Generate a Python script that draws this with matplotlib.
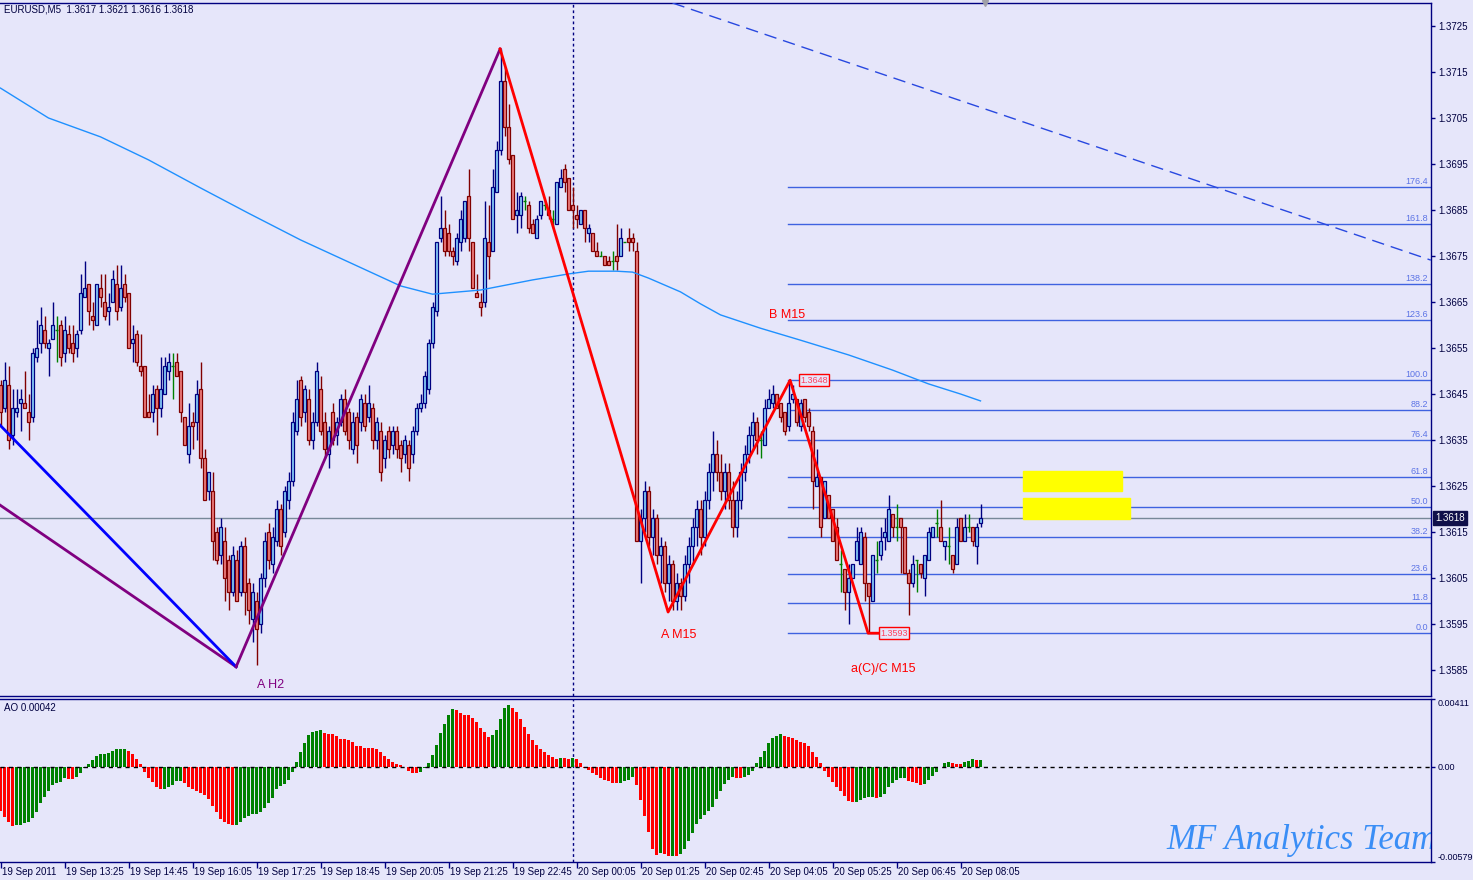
import numpy as np
import matplotlib.pyplot as plt
from matplotlib.patches import Rectangle

plt.rcParams['font.family'] = ['Liberation Sans', 'DejaVu Sans']

# EURUSD M5, one bar every 5 minutes from 19 Sep 2011 12:05 to 20 Sep 08:30
# prices are given in pips (1 pip = 0.0001)
open_pips = [
    13647, 13642, 13647, 13636, 13641, 13643, 13643, 13641, 13640, 13653,
    13656, 13659, 13655, 13657, 13659, 13660, 13654, 13658, 13656, 13655,
    13659, 13666, 13669, 13662, 13660, 13668, 13665, 13663, 13665, 13669,
    13664, 13669, 13667, 13656, 13658, 13651, 13651, 13641, 13641, 13646,
    13642, 13645, 13650, 13651, 13652, 13650, 13640, 13632, 13639, 13639,
    13646, 13631, 13624, 13624, 13615, 13610, 13613, 13609, 13602, 13609,
    13602, 13612, 13604, 13596, 13600, 13595, 13605, 13615, 13608, 13613,
    13620, 13615, 13622, 13626, 13637, 13648, 13641, 13644, 13635, 13639,
    13646, 13639, 13632, 13641, 13636, 13639, 13644, 13641, 13633, 13640,
    13639, 13643, 13640, 13642, 13635, 13637, 13631, 13637, 13634, 13637,
    13634, 13632, 13634, 13632, 13637, 13642, 13643, 13646, 13656, 13663,
    13679, 13681, 13680, 13676, 13674, 13678, 13679, 13688, 13678, 13667,
    13665, 13665, 13678, 13676, 13689, 13698, 13713, 13703, 13697, 13684,
    13684, 13687, 13686, 13682, 13679, 13684, 13686, 13685, 13683, 13682,
    13690, 13694, 13692, 13686, 13684, 13682, 13685, 13680, 13680, 13676,
    13675, 13675, 13674, 13674, 13675, 13675, 13678, 13679, 13679, 13676,
    13613, 13618, 13624, 13614, 13618, 13610, 13612, 13604, 13608, 13600,
    13604, 13601, 13608, 13612, 13616, 13620, 13614, 13622, 13628, 13632,
    13628, 13624, 13628, 13622, 13616, 13622, 13628, 13632, 13636, 13639,
    13635, 13634, 13642, 13643, 13645, 13643, 13641, 13638, 13644, 13644,
    13638, 13644, 13641, 13637, 13625, 13627, 13618, 13623, 13620, 13616,
    13608, 13607, 13602, 13605, 13609, 13608, 13614, 13604, 13600, 13609,
    13610, 13614, 13613, 13619, 13616, 13618, 13616, 13606, 13604, 13609,
    13608, 13605, 13609, 13614, 13617, 13616, 13612, 13612, 13610, 13608,
    13618, 13613, 13616, 13616, 13612, 13617,
]
high_pips = [
    13648, 13652, 13651, 13646, 13646, 13646, 13650, 13645, 13655, 13661,
    13664, 13662, 13657, 13665, 13662, 13661, 13662, 13660, 13660, 13659,
    13671, 13674, 13669, 13665, 13669, 13671, 13671, 13667, 13672, 13673,
    13673, 13671, 13667, 13660, 13659, 13658, 13651, 13645, 13647, 13647,
    13653, 13653, 13654, 13654, 13654, 13650, 13640, 13643, 13641, 13648,
    13652, 13633, 13628, 13628, 13616, 13618, 13616, 13610, 13612, 13611,
    13613, 13614, 13605, 13604, 13602, 13606, 13615, 13617, 13616, 13622,
    13621, 13625, 13628, 13641, 13648, 13649, 13647, 13646, 13641, 13652,
    13649, 13641, 13638, 13643, 13640, 13645, 13646, 13642, 13641, 13641,
    13645, 13645, 13647, 13643, 13640, 13639, 13636, 13638, 13638, 13638,
    13635, 13636, 13635, 13638, 13643, 13645, 13650, 13657, 13665, 13678,
    13688, 13685, 13682, 13677, 13680, 13685, 13687, 13694, 13678, 13671,
    13667, 13687, 13686, 13694, 13700, 13720, 13716, 13708, 13697, 13689,
    13689, 13688, 13687, 13683, 13684, 13687, 13687, 13688, 13685, 13691,
    13694, 13695, 13692, 13690, 13686, 13685, 13685, 13682, 13680, 13678,
    13676, 13675, 13675, 13676, 13682, 13681, 13678, 13681, 13680, 13678,
    13620, 13626, 13625, 13620, 13619, 13614, 13613, 13610, 13609, 13606,
    13605, 13610, 13614, 13618, 13622, 13622, 13624, 13630, 13637, 13635,
    13632, 13630, 13630, 13626, 13624, 13630, 13634, 13638, 13641, 13640,
    13637, 13644, 13646, 13647, 13645, 13643, 13641, 13648, 13647, 13644,
    13644, 13644, 13642, 13638, 13633, 13627, 13626, 13623, 13620, 13618,
    13611, 13607, 13608, 13608, 13616, 13616, 13615, 13604, 13610, 13613,
    13616, 13618, 13623, 13619, 13621, 13618, 13616, 13607, 13610, 13609,
    13608, 13610, 13616, 13616, 13620, 13622, 13613, 13616, 13610, 13618,
    13618, 13619, 13619, 13616, 13617, 13621,
]
low_pips = [
    13638, 13641, 13633, 13634, 13640, 13637, 13642, 13635, 13639, 13652,
    13654, 13655, 13649, 13657, 13652, 13651, 13652, 13654, 13652, 13653,
    13658, 13666, 13660, 13659, 13660, 13664, 13661, 13660, 13665, 13661,
    13663, 13665, 13655, 13652, 13651, 13649, 13640, 13640, 13639, 13636,
    13640, 13645, 13648, 13644, 13649, 13639, 13634, 13630, 13633, 13635,
    13629, 13622, 13622, 13609, 13608, 13608, 13600, 13598, 13601, 13600,
    13601, 13597, 13595, 13591, 13586, 13593, 13603, 13607, 13606, 13612,
    13610, 13614, 13620, 13625, 13636, 13638, 13639, 13634, 13633, 13638,
    13636, 13631, 13629, 13634, 13634, 13638, 13636, 13633, 13632, 13630,
    13637, 13637, 13639, 13633, 13633, 13626, 13629, 13631, 13632, 13631,
    13628, 13630, 13626, 13630, 13636, 13641, 13642, 13645, 13655, 13662,
    13678, 13675, 13675, 13673, 13673, 13676, 13678, 13676, 13668, 13666,
    13662, 13664, 13670, 13676, 13689, 13697, 13701, 13695, 13683, 13680,
    13681, 13685, 13680, 13680, 13679, 13683, 13685, 13683, 13681, 13682,
    13690, 13689, 13685, 13681, 13681, 13682, 13678, 13678, 13676, 13675,
    13675, 13673, 13673, 13672, 13672, 13675, 13678, 13676, 13676, 13613,
    13604, 13615, 13612, 13610, 13608, 13604, 13602, 13600, 13598, 13598,
    13598, 13600, 13604, 13608, 13612, 13610, 13612, 13620, 13624, 13626,
    13622, 13620, 13620, 13614, 13614, 13620, 13626, 13630, 13633, 13632,
    13631, 13634, 13642, 13642, 13642, 13639, 13636, 13637, 13643, 13638,
    13637, 13639, 13637, 13620, 13625, 13614, 13618, 13618, 13613, 13609,
    13602, 13598, 13595, 13605, 13609, 13608, 13600, 13593, 13600, 13606,
    13609, 13611, 13613, 13614, 13613, 13606, 13606, 13597, 13603, 13602,
    13605, 13601, 13609, 13614, 13614, 13613, 13609, 13608, 13606, 13608,
    13613, 13613, 13615, 13612, 13608, 13616,
]
close_pips = [
    13641, 13648, 13635, 13642, 13642, 13644, 13642, 13639, 13654, 13655,
    13660, 13656, 13656, 13660, 13659, 13653, 13659, 13655, 13654, 13658,
    13667, 13668, 13663, 13661, 13669, 13666, 13662, 13664, 13670, 13663,
    13668, 13666, 13655, 13657, 13652, 13650, 13640, 13640, 13645, 13642,
    13646, 13651, 13652, 13651, 13649, 13641, 13634, 13638, 13638, 13645,
    13631, 13622, 13628, 13613, 13609, 13616, 13605, 13602, 13610, 13600,
    13612, 13602, 13598, 13602, 13594, 13605, 13613, 13609, 13614, 13620,
    13612, 13624, 13626, 13639, 13644, 13640, 13646, 13635, 13639, 13650,
    13637, 13633, 13637, 13635, 13639, 13644, 13637, 13635, 13639, 13634,
    13644, 13638, 13643, 13635, 13639, 13628, 13635, 13633, 13637, 13633,
    13631, 13635, 13629, 13637, 13642, 13643, 13649, 13656, 13664, 13678,
    13681, 13676, 13676, 13675, 13679, 13683, 13687, 13679, 13668, 13666,
    13664, 13679, 13675, 13690, 13698, 13713, 13703, 13696, 13683, 13685,
    13688, 13687, 13681, 13680, 13683, 13687, 13686, 13684, 13683, 13691,
    13692, 13691, 13685, 13685, 13683, 13685, 13681, 13681, 13676, 13675,
    13675, 13673, 13673, 13674, 13674, 13679, 13678, 13678, 13678, 13613,
    13618, 13624, 13614, 13618, 13610, 13612, 13604, 13608, 13600, 13604,
    13601, 13608, 13612, 13616, 13620, 13614, 13622, 13628, 13632, 13628,
    13624, 13628, 13622, 13616, 13622, 13628, 13632, 13636, 13639, 13635,
    13635, 13642, 13644, 13645, 13642, 13640, 13637, 13643, 13645, 13639,
    13643, 13640, 13638, 13626, 13627, 13616, 13626, 13618, 13613, 13609,
    13608, 13602, 13605, 13608, 13613, 13615, 13604, 13601, 13610, 13609,
    13613, 13615, 13620, 13616, 13616, 13616, 13606, 13604, 13608, 13609,
    13606, 13610, 13615, 13616, 13617, 13613, 13613, 13612, 13607, 13616,
    13613, 13616, 13616, 13613, 13616, 13618,
]

# Awesome Oscillator, in units of 0.00001
ao_1e5 = [
    -267, -303, -334, -359, -357, -353, -344, -334, -310, -273,
    -223, -187, -150, -113, -100, -92, -70, -74, -76, -62,
    -39, -10, 14, 39, 64, 76, 78, 86, 98, 105,
    107, 108, 98, 76, 45, 14, -33, -68, -96, -125,
    -137, -135, -125, -109, -88, -86, -100, -121, -137, -150,
    -158, -174, -199, -236, -277, -316, -334, -350, -355, -353,
    -334, -310, -297, -287, -285, -273, -254, -223, -193, -137,
    -117, -105, -80, -33, 27, 88, 146, 193, 209, 215,
    223, 207, 201, 197, 187, 168, 166, 162, 150, 125,
    123, 113, 112, 111, 110, 90, 64, 45, 27, 14,
    12, 1, -27, -39, -41, -33, -8, 21, 70, 131,
    205, 262, 316, 353, 346, 328, 316, 312, 297, 273,
    236, 209, 178, 193, 223, 291, 355, 377, 359, 334,
    291, 242, 199, 162, 131, 106, 88, 69, 57, 45,
    51, 50, 45, 51, 45, 21, -6, -21, -39, -53,
    -70, -78, -88, -100, -101, -100, -88, -82, -64, -113,
    -205, -297, -396, -500, -537, -525, -531, -543, -541, -544,
    -531, -500, -451, -402, -346, -316, -291, -267, -242, -199,
    -150, -107, -82, -64, -66, -70, -64, -51, -27, 21,
    57, 94, 144, 174, 187, 199, 187, 180, 174, 162,
    150, 144, 125, 88, 57, 21, -27, -64, -94, -125,
    -150, -180, -211, -217, -215, -205, -193, -187, -186, -193,
    -187, -168, -125, -100, -82, -70, -69, -88, -94, -100,
    -113, -107, -82, -57, -33, -2, 21, 27, 21, 16,
    14, 27, 33, 45, 39, 42,
]

# slow moving average (light blue), sampled along the chart
ma_bar = [0, 12, 25, 37, 50, 62, 75, 87, 100, 108, 120, 133, 142, 147, 154,
          158, 162, 170, 175, 180, 190, 200, 212, 223, 232, 240, 245]
ma_price = [1.37115, 1.37050, 1.37009, 1.36959, 1.36898, 1.36843, 1.36785,
            1.36737, 1.36685, 1.36667, 1.36676, 1.36698, 1.36711, 1.36717,
            1.36717, 1.36715, 1.36702, 1.36672, 1.36646, 1.36622, 1.36593,
            1.36567, 1.36535, 1.36502, 1.36472, 1.36450, 1.36435]

# zigzag waves (bar, price)
h2_lower_x = [-0.2, 58.9]
h2_lower_y = [1.36209, 1.35857]
h2_blue_x = [-0.2, 58.9]
h2_blue_y = [1.36383, 1.35857]
h2_up_x = [58.9, 124.9]
h2_up_y = [1.35857, 1.37200]
m15_x = [124.9, 166.9, 197.4, 216.9, 219.9]
m15_y = [1.37200, 1.35976, 1.36480, 1.35930, 1.35930]
trend_x = [168.0, 357.6]
trend_y = [1.37300, 1.36741]

# fibonacci grid drawn on the last swing
fib_low = 1.3593
fib_high = 1.3648
fib_start = 196.9
fib_ratios = [0.0, 11.8, 23.6, 38.2, 50.0, 61.8, 76.4, 88.2, 100.0,
              123.6, 138.2, 161.8, 176.4]

# yellow target zones: (bar_from, bar_to, price_low, price_high)
zones = [(255.6, 280.4, 1.36239, 1.36283), (255.6, 282.4, 1.36178, 1.36224)]

last_price = 1.3618
day_break = 143
time_ticks = list(range(0, 241, 16))
time_labels = ['19 Sep 2011', '19 Sep 13:25', '19 Sep 14:45', '19 Sep 16:05',
               '19 Sep 17:25', '19 Sep 18:45', '19 Sep 20:05', '19 Sep 21:25',
               '19 Sep 22:45', '20 Sep 00:05', '20 Sep 01:25', '20 Sep 02:45',
               '20 Sep 04:05', '20 Sep 05:25', '20 Sep 06:45', '20 Sep 08:05']
price_ticks = [1.3585 + 0.001 * i for i in range(15)]
ao_ticks = [-0.00579, 0.0, 0.00411]

BG = '#E6E6FA'
NAVY = '#000080'
TXT = '#000040'

W, H = 1473, 880
def box(x0, y0, x1, y1):
    return [x0 / W, 1 - y1 / H, (x1 - x0) / W, (y1 - y0) / H]

fig = plt.figure(figsize=(W / 100, H / 100), dpi=100, facecolor=BG)
ax = fig.add_axes(box(0, 3, 1431, 696), facecolor=BG)
ax2 = fig.add_axes(box(0, 699, 1431, 862), facecolor=BG, sharex=ax)

o = np.array(open_pips) / 1e4
hi = np.array(high_pips) / 1e4
lo = np.array(low_pips) / 1e4
c = np.array(close_pips) / 1e4
bars = np.arange(len(o))
up = c > o
dn = c < o
dj = c == o

# grid-like objects behind the candles
ax.axhline(last_price, color='#778899', lw=1, zorder=1)
for r in fib_ratios:
    lvl = fib_low + (fib_high - fib_low) * r / 100
    ax.plot([fib_start, 400], [lvl, lvl], color='#3F62E0', lw=1, zorder=1)
    ax.annotate(f'{r:.1f}', xy=(1, lvl), xycoords=('axes fraction', 'data'),
                xytext=(-3, 1), textcoords='offset pixels', ha='right', va='bottom',
                fontsize=6.5, color='#5C74E6')
for b0, b1, p0, p1 in zones:
    ax.add_patch(Rectangle((b0, p0), b1 - b0, p1 - p0, color='#FFFF00', zorder=2))

# candles
ax.vlines(bars[up], lo[up], hi[up], colors=NAVY, lw=1, zorder=3)
ax.bar(bars[up], (c - o)[up], bottom=o[up], width=0.55, color='#87CEFA',
       edgecolor=NAVY, lw=0.9, zorder=4)
ax.vlines(bars[dn], lo[dn], hi[dn], colors='#800000', lw=1, zorder=3)
ax.bar(bars[dn], (c - o)[dn], bottom=o[dn], width=0.55, color='#F08080',
       edgecolor='#800000', lw=0.9, zorder=4)
ax.vlines(bars[dj], lo[dj], hi[dj], colors='#008000', lw=1, zorder=3)
ax.hlines(c[dj], bars[dj] - 0.4, bars[dj] + 0.4, colors='#008000', lw=1, zorder=3)

# moving average and wave lines
ax.plot(ma_bar, ma_price, color='#1E90FF', lw=1, zorder=5)
ax.plot(h2_lower_x, h2_lower_y, color='#800080', lw=2, zorder=5)
ax.plot(h2_blue_x, h2_blue_y, color='#0000FF', lw=2, zorder=5)
ax.plot(h2_up_x, h2_up_y, color='#800080', lw=2, zorder=5)
ax.plot(m15_x, m15_y, color='#FF0000', lw=2, zorder=6)
ax.plot(trend_x, trend_y, color='#2848E0', lw=1, ls=(0, (9, 5)), zorder=5)

# wave labels
ax.text(192.1, 1.36622, 'B M15', color='#FF0000', fontsize=9, va='center')
ax.text(165.1, 1.35926, 'A M15', color='#FF0000', fontsize=9, va='center')
ax.text(212.6, 1.35852, 'a(C)/C M15', color='#FF0000', fontsize=9, va='center')
ax.text(64.1, 1.35817, 'A H2', color='#800080', fontsize=9, va='center')
for bx, p in [(199.9, fib_high), (219.9, fib_low)]:
    ax.text(bx, p, f'{p:.4f}', color='#FF4060', fontsize=6.5, va='center', zorder=7,
            bbox=dict(boxstyle='square,pad=0.15', fc=BG, ec='#FF0000', lw=1))

# day separator
for a in (ax, ax2):
    a.axvline(day_break, color=NAVY, lw=1, ls=(0, (2, 2)), zorder=2)

ax.annotate('EURUSD,M5  1.3617 1.3621 1.3616 1.3618', xy=(0, 1),
            xycoords='axes fraction', xytext=(4, -7), textcoords='offset pixels',
            va='center', fontsize=7, color=TXT)
ax.plot([246], [1.3730], marker='v', ms=5, color='#A0A0A8', clip_on=False, zorder=8)

# price axis
ax.set_xlim(-0.125, 357.625)
ax.set_ylim(1.357935, 1.37300)
ax.yaxis.tick_right()
ax.set_yticks(price_ticks)
ax.set_yticklabels([f'{p:.4f}' for p in price_ticks])
ax.tick_params(axis='y', direction='out', length=3, width=1, colors=NAVY,
               labelcolor=TXT, labelsize=7, pad=2)
ax.tick_params(axis='x', bottom=False, labelbottom=False)
ax.annotate(f'{last_price:.4f}', xy=(1, last_price), xycoords=('axes fraction', 'data'),
            xytext=(4, 0), textcoords='offset pixels', va='center', ha='left',
            fontsize=7, color='white', annotation_clip=False,
            bbox=dict(boxstyle='square,pad=0.2', fc='#10104A', ec='#10104A'))

# awesome oscillator
ao = np.array(ao_1e5) * 1e-5
ao_cols = ['#FF0000'] + ['#008000' if ao[i] > ao[i - 1] else '#FF0000'
                         for i in range(1, len(ao))]
ax2.bar(bars, ao, width=0.7, color=ao_cols, zorder=3)
ax2.axhline(0, color='black', lw=1, ls=(0, (3, 3)), zorder=4)
ax2.set_ylim(-0.00579, 0.00411)
ax2.yaxis.tick_right()
ax2.set_yticks(ao_ticks)
ax2.set_yticklabels(['-0.00579', '0.00', '0.00411'])
ax2.tick_params(axis='y', direction='out', length=3, width=1, colors=NAVY,
                labelcolor=TXT, labelsize=6.5, pad=2)
labs = ax2.get_yticklabels()
labs[0].set_va('bottom')
labs[2].set_va('top')
ax2.annotate('AO 0.00042', xy=(0, 1), xycoords='axes fraction', xytext=(4, -9),
             textcoords='offset pixels', va='center', fontsize=7, color=TXT)
ax2.text(291.6, 0.08, 'MF Analytics Team', transform=ax2.get_xaxis_transform(),
         family='Liberation Serif', style='italic', fontsize=25, color='#3A8EF6',
         va='baseline', ha='left', clip_on=True, zorder=6)

# time axis
ax2.set_xticks(time_ticks)
ax2.set_xticklabels([])
ax2.tick_params(axis='x', direction='out', length=4, width=1, colors=NAVY)
for t, lab in zip(time_ticks, time_labels):
    ax2.annotate(lab, xy=(t, 0), xycoords=('data', 'axes fraction'),
                 xytext=(2, -10), textcoords='offset pixels', ha='left', va='center',
                 fontsize=7, color=TXT, annotation_clip=False)

for a in (ax, ax2):
    for side in ('top', 'right', 'bottom'):
        a.spines[side].set_color(NAVY)
        a.spines[side].set_linewidth(1)
    a.spines['left'].set_visible(False)

fig.savefig('out.png', dpi=100, facecolor=BG)
